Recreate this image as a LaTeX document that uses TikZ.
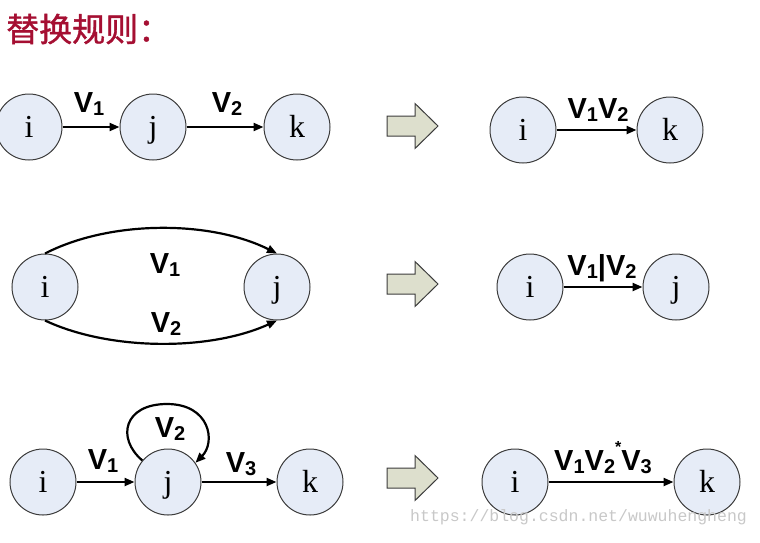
\documentclass[tikz,border=0pt]{standalone}
\usepackage{fontspec}
\setmainfont{Liberation Serif}
\newfontfamily\lsans{Liberation Sans}
\newfontfamily\cjk[FakeBold=1.2]{Noto Sans CJK SC}
\newfontfamily\monof{Liberation Mono}
\usetikzlibrary{arrows.meta}
\definecolor{nodefill}{RGB}{230,236,247}
\definecolor{nodeedge}{RGB}{60,60,60}
\definecolor{blockfill}{RGB}{221,223,205}
\definecolor{titlered}{RGB}{165,15,50}
\definecolor{wmgray}{RGB}{200,200,200}
\newcommand{\Vsub}[1]{V\raisebox{-3pt}{\fontsize{20}{20}\selectfont #1}}
\tikzset{
  vert/.style={circle, draw=nodeedge, line width=1pt, fill=nodefill, minimum size=66pt,
    inner sep=0pt, text height=20pt, text depth=0pt, font=\fontsize{32}{32}\selectfont},
  lab/.style={anchor=base, inner sep=0pt, font=\lsans\bfseries\fontsize{29}{29}\selectfont},
  edge/.style={line width=2.2pt, -{Triangle[length=10pt,width=8pt]}},
  barrowstyle/.style={draw=nodeedge, line width=1pt, fill=blockfill},
  blockarrow/.pic={\draw[barrowstyle] (0,-10) -- (28,-10) -- (28,-22.5) -- (51,0) -- (28,22.5) -- (28,10) -- (0,10) -- cycle;}
}
\begin{document}
\begin{tikzpicture}[x=1pt,y=-1pt]
\useasboundingbox (0,0) rectangle (760,542);
% title
\node[anchor=west, inner sep=0pt, text=titlered, font=\cjk\fontsize{33}{33}\selectfont] (title) at (6,29) {替换规则：};
% row 1
\node[vert] (i1) at (29,127) {i};
\node[vert] (j1) at (153,127) {j};
\node[vert] (k1) at (297,127) {k};
\draw[edge] (i1) -- (j1);
\draw[edge] (j1) -- (k1);
\node[lab] (l11) at (89,112) {\Vsub{1}};
\node[lab] (l12) at (227,112) {\Vsub{2}};
\pic at (387,126) {blockarrow};
\node[vert] (i1r) at (523,130) {i};
\node[vert] (k1r) at (670,130) {k};
\draw[edge] (i1r) -- (k1r);
\node[lab] (l1r) at (598,118) {\Vsub{1}\Vsub{2}};
% row 2
\node[vert] (i2) at (45,287) {i};
\node[vert] (j2) at (277,287) {j};
\draw[edge] (i2.north) .. controls (110,220) and (210,220) .. (j2.north);
\draw[edge] (i2.south) .. controls (110,351) and (210,351) .. (j2.south);
\node[lab] (l21) at (165,273) {\Vsub{1}};
\node[lab] (l22) at (166,332) {\Vsub{2}};
\pic at (387,284) {blockarrow};
\node[vert] (i2r) at (530,287) {i};
\node[vert] (j2r) at (676,287) {j};
\draw[edge] (i2r) -- (j2r);
\node[lab] (l2r) at (602,275) {\Vsub{1}|\Vsub{2}};
% row 3
\node[vert] (i3) at (43,482) {i};
\node[vert] (j3) at (168,482) {j};
\node[vert] (k3) at (310,482) {k};
\draw[edge] (i3) -- (j3);
\draw[edge] (j3) -- (k3);
\draw[edge] (j3.140) .. controls (116,438) and (124,404) .. (167,404) .. controls (210,404) and (216,442) .. (j3.35);
\node[lab] (l31) at (103,469) {\Vsub{1}};
\node[lab] (l32) at (170,437) {\Vsub{2}};
\node[lab] (l33) at (241,472) {\Vsub{3}};
\pic at (387,478) {blockarrow};
\node[vert] (i3r) at (515,482) {i};
\node[vert] (k3r) at (707,482) {k};
\draw[edge] (i3r) -- (k3r);
\node[lab] (l3r) at (603,470) {\Vsub{1}\Vsub{2}\raisebox{18pt}{\fontsize{16}{16}\selectfont *}\Vsub{3}};
% watermark
\node[anchor=base west, inner sep=0pt, text=wmgray, font=\monof\fontsize{16.5}{16.5}\selectfont] (wm) at (410,521) {https://blog.csdn.net/wuwuhengheng};
\end{tikzpicture}
\end{document}
